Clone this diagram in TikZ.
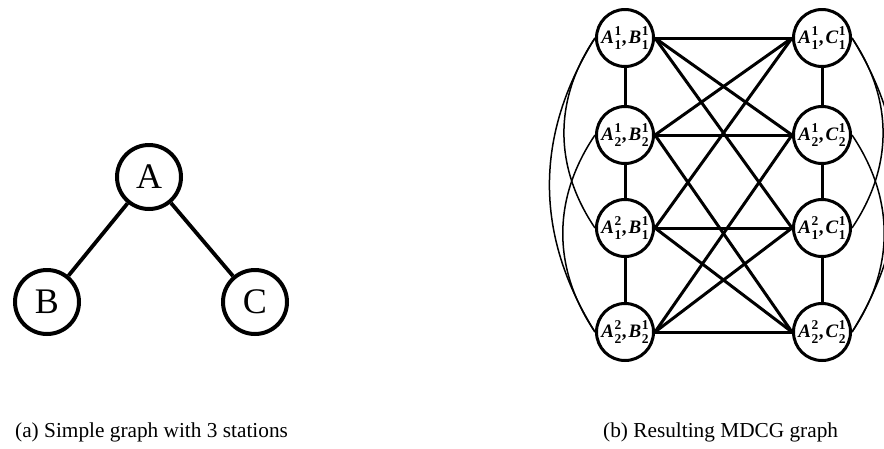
\documentclass[tikz,border=0pt]{standalone}
\usepackage{fontspec}
\setmainfont{Liberation Serif}
\newcommand\supsub[2]{\makebox[0pt][l]{\raisebox{0.43em}{\fontsize{13.5}{13.5}\selectfont\bfseries #1}}\raisebox{-0.30em}{\fontsize{13.5}{13.5}\selectfont\bfseries #2}}
\newcommand\mlab[6]{{\bfseries\itshape #1}\kern0.5pt\supsub{#2}{#3}\kern0.5pt{\bfseries ,}\kern2pt{\bfseries\itshape #4}\kern0.5pt\supsub{#5}{#6}}
\begin{document}
\begin{tikzpicture}[x=1pt,y=-1pt,
  big/.style={circle,draw,line width=4pt,minimum size=64pt,inner sep=0pt,font=\fontsize{36}{40}\selectfont},
  bigedge/.style={line width=3.8pt},
  small/.style={circle,draw,line width=3pt,minimum size=57pt,inner sep=0pt,font=\fontsize{19}{22}\selectfont},
  edge/.style={line width=3pt},
  outerarc/.style={line width=1.5pt},
  captext/.style={font=\fontsize{21.3}{25}\selectfont,anchor=base west,inner sep=0pt}]
\useasboundingbox (0,0) rectangle (884,448);
% (a)
\node[big] (A) at (149,177) {A};
\node[big] (B) at (47,302) {B};
\node[big] (C) at (255,302) {C};
\draw[bigedge] (A) -- (B);
\draw[bigedge] (A) -- (C);
% (b)
\node[small] (L1) at (625,38) {\mlab{A}{1}{1}{B}{1}{1}};
\node[small] (L2) at (625,135) {\mlab{A}{1}{2}{B}{1}{2}};
\node[small] (L3) at (625,228) {\mlab{A}{2}{1}{B}{1}{1}};
\node[small] (L4) at (625,332) {\mlab{A}{2}{2}{B}{1}{2}};
\node[small] (R1) at (822,38) {\mlab{A}{1}{1}{C}{1}{1}};
\node[small] (R2) at (822,135) {\mlab{A}{1}{2}{C}{1}{2}};
\node[small] (R3) at (822,228) {\mlab{A}{2}{1}{C}{1}{1}};
\node[small] (R4) at (822,332) {\mlab{A}{2}{2}{C}{1}{2}};
\foreach \a/\b in {L1/L2,L2/L3,L3/L4,R1/R2,R2/R3,R3/R4}
  \draw[edge] (\a.south) -- (\b.north);
\foreach \a/\b in {L1/R1,L1/R2,L1/R3,L2/R1,L2/R2,L2/R4,L3/R1,L3/R3,L3/R4,L4/R2,L4/R3,L4/R4}
  \draw[edge] (\a.east) -- (\b.west);
\draw[outerarc] (L1.west) to[out=236,in=124] (L3.west);
\draw[outerarc] (L1.west) to[out=238,in=122] (L4.west);
\draw[outerarc] (L2.west) to[out=236,in=124] (L4.west);
\draw[outerarc] (R1.east) to[out=-56,in=56] (R3.east);
\draw[outerarc] (R1.east) to[out=-58,in=58] (R4.east);
\draw[outerarc] (R2.east) to[out=-56,in=56] (R4.east);
% captions
\node[captext] (capa) at (15,437) {(a) Simple graph with 3 stations};
\node[captext] (capb) at (603,437) {(b) Resulting MDCG graph};
\end{tikzpicture}
\end{document}
